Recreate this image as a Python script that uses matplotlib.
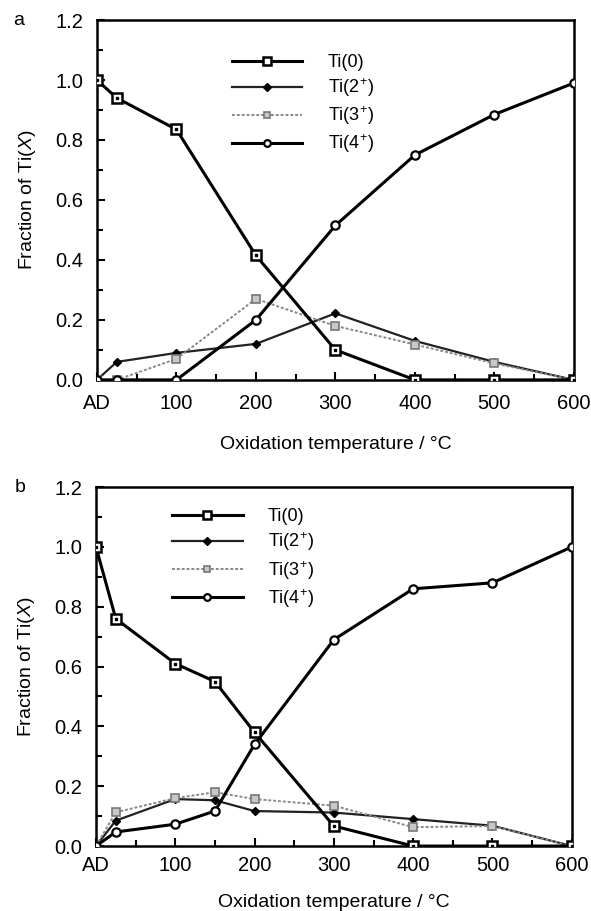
import matplotlib
matplotlib.use("Agg")
import matplotlib.pyplot as plt
from matplotlib.ticker import MultipleLocator

plt.rcParams['font.family'] = ['Liberation Sans', 'DejaVu Sans']
plt.rcParams['mathtext.fontset'] = 'custom'
plt.rcParams['mathtext.rm'] = 'Liberation Sans'
plt.rcParams['mathtext.it'] = 'Liberation Sans:italic'

# panel a data (AD plotted at 0)
temp_a = [0, 25, 100, 200, 300, 400, 500, 600]
ti0_a = [1.00, 0.94, 0.835, 0.415, 0.10, 0.0, 0.0, 0.0]
ti2_a = [0.0, 0.06, 0.09, 0.12, 0.222, 0.13, 0.06, 0.0]
ti3_a = [0.0, 0.0, 0.07, 0.27, 0.18, 0.118, 0.055, 0.0]
ti4_a = [0.0, 0.0, 0.0, 0.20, 0.515, 0.75, 0.885, 0.99]

# panel b data
temp_b = [0, 25, 100, 150, 200, 300, 400, 500, 600]
ti0_b = [1.00, 0.76, 0.61, 0.55, 0.38, 0.067, 0.0, 0.0, 0.0]
ti2_b = [0.0, 0.085, 0.157, 0.153, 0.117, 0.112, 0.09, 0.068, 0.0]
ti3_b = [0.0, 0.113, 0.16, 0.18, 0.157, 0.135, 0.063, 0.067, 0.0]
ti4_b = [0.0, 0.047, 0.073, 0.117, 0.34, 0.69, 0.86, 0.88, 1.0]

xticks = [0, 100, 200, 300, 400, 500, 600]
xticklabels = ['AD', '100', '200', '300', '400', '500', '600']
labels = ['Ti(0)', 'Ti(2$^{+}$)', 'Ti(3$^{+}$)', 'Ti(4$^{+}$)']

fig = plt.figure(figsize=(5.91, 9.11), dpi=100)
ax_a = fig.add_axes([0.164, 0.583, 0.807, 0.395])
ax_b = fig.add_axes([0.1624, 0.0713, 0.805, 0.394])


def draw(ax, t, s0, s2, s3, s4, legend_anchor, xpad, xlabelpad):
    ax.plot(t, s2, color='#222222', lw=1.6, marker='D', ms=4.5,
            mfc='black', mec='black', label=labels[1], zorder=3)
    ax.plot(t, s3, color='#888888', lw=1.4, ls=(0, (1.5, 1)), marker='s', ms=6,
            mfc='#c8c8c8', mec='#777777', mew=1.2, label=labels[2], zorder=3)
    ax.plot(t, s4, color='black', lw=2.2, marker='o', ms=6,
            mfc='white', mec='black', mew=1.6, label=labels[3], zorder=4)
    ax.plot(t, s0, color='black', lw=2.2, marker='s', ms=7,
            mfc='white', mec='black', mew=1.8, label=labels[0], zorder=5)
    # centre dot of the square markers
    ax.plot(t, s0, ls='none', marker='s', ms=1.5, color='black', zorder=6)

    ax.set_xlim(0, 600)
    ax.set_ylim(0, 1.2)
    ax.set_xticks(xticks)
    ax.set_xticklabels(xticklabels)
    ax.xaxis.set_minor_locator(MultipleLocator(50))
    ax.yaxis.set_major_locator(MultipleLocator(0.2))
    ax.yaxis.set_minor_locator(MultipleLocator(0.1))
    ax.yaxis.set_major_formatter(plt.FormatStrFormatter('%.1f'))
    ax.tick_params(which='both', direction='in', top=False, right=False,
                   labelsize=14.5, width=1.5)
    ax.tick_params(which='major', length=6)
    ax.tick_params(axis='x', which='major', pad=xpad)
    ax.tick_params(axis='y', which='major', pad=10)
    ax.tick_params(which='minor', length=4)
    for sp in ax.spines.values():
        sp.set_linewidth(1.8)
    ax.set_xlabel('Oxidation temperature / °C', fontsize=14, labelpad=xlabelpad)
    ax.set_ylabel('Fraction of Ti($\\it{X}$)', fontsize=14, labelpad=12)

    h, l = ax.get_legend_handles_labels()
    order = [l.index(x) for x in labels]
    ax.legend([h[i] for i in order], [l[i] for i in order],
              loc='upper left', bbox_to_anchor=legend_anchor, frameon=False,
              fontsize=13, handlelength=3.9, labelspacing=0.3,
              handletextpad=1.4, borderpad=0, borderaxespad=0, markerscale=0.8)


draw(ax_a, temp_a, ti0_a, ti2_a, ti3_a, ti4_a, (0.283, 0.906), 10, 17)
draw(ax_b, temp_b, ti0_b, ti2_b, ti3_b, ti4_b, (0.16, 0.941), 7, 14)

fig.text(0.022, 0.978, 'a', fontsize=14, va='center')
fig.text(0.025, 1 - 488 / 911, 'b', fontsize=14, va='center')

fig.savefig('out.png', dpi=100)
